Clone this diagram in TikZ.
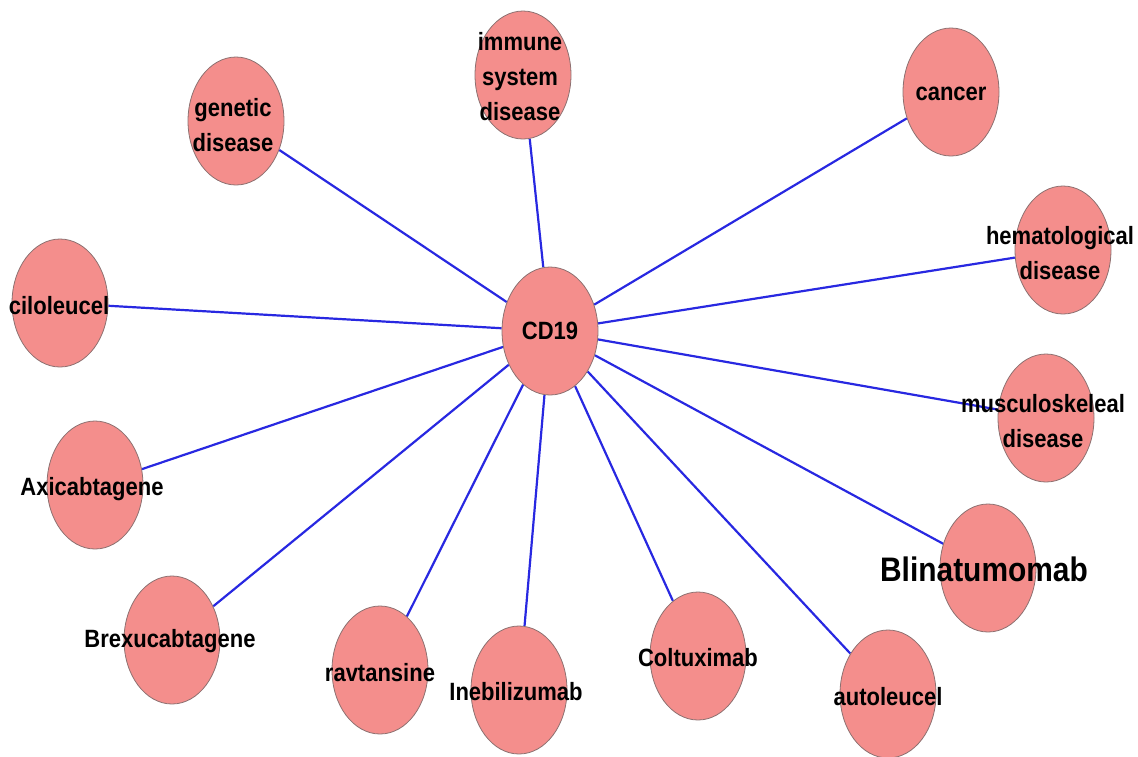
\documentclass[tikz,border=0pt]{standalone}
\usepackage{fontspec}
\setmainfont{Liberation Sans}[FakeStretch=0.88]
\usepackage{tikz}
\usetikzlibrary{shapes.geometric,backgrounds}

\definecolor{nodepink}{RGB}{244,142,140}
\definecolor{nodeedge}{RGB}{140,112,112}
\definecolor{linkblue}{RGB}{40,40,225}

\begin{document}
\begin{tikzpicture}[x=1pt,y=-1pt]
\tikzstyle{ent}=[ellipse, draw=nodeedge, line width=0.8pt, fill=nodepink, inner sep=0pt, minimum width=96pt, minimum height=128pt]
\tikzstyle{txt}=[inner sep=0pt, align=center, font=\fontsize{25}{35}\selectfont\bfseries]
\tikzstyle{link}=[draw=linkblue, line width=2.2pt]

\useasboundingbox (0,0) rectangle (1138,756);

% hub
\node[ent] (cd19) at (550,331) {};
\node[txt] (cd19t) at (550,331) {CD19};

% diseases
\node[ent] (immune) at (523,75) {};
\node[txt] (immunet) at (520,77) {immune\\system\\disease};
\node[ent] (genetic) at (236,121) {};
\node[txt] (genetict) at (233,125) {genetic\\disease};
\node[ent] (cancer) at (951,92) {};
\node[txt] (cancert) at (951,94) {cancer};
\node[ent] (hema) at (1063,250) {};
\node[txt] (hemat) at (1060,253) {hematological\\disease};
\node[ent] (musc) at (1046,418) {};
\node[txt] (musct) at (1043,421) {musculoskeleal\\disease};

% drugs
\node[ent] (cilo) at (60,303) {};
\node[txt] (cilot) at (59,306) {ciloleucel};
\node[ent] (axi) at (95,485) {};
\node[txt] (axit) at (92,489) {Axicabtagene};
\node[ent] (brexu) at (172,640) {};
\node[txt] (brexut) at (170,641) {Brexucabtagene};
\node[ent] (ravt) at (380,670) {};
\node[txt] (ravtt) at (380,673) {ravtansine};
\node[ent] (ineb) at (519,690) {};
\node[txt] (inebt) at (516,692) {Inebilizumab};
\node[ent] (coltu) at (698,656) {};
\node[txt] (coltut) at (698,658) {Coltuximab};
\node[ent] (auto) at (888,694) {};
\node[txt] (autot) at (888,697) {autoleucel};
\node[ent] (blina) at (988,568) {};
\node[txt, font=\fontsize{34}{40}\selectfont\bfseries] (blinat) at (984,569) {Blinatumomab};

% links
\begin{scope}[on background layer]
\foreach \n in {immune,genetic,cancer,hema,musc,cilo,axi,brexu,ravt,ineb,coltu,auto,blina}
  \draw[link] (cd19) -- (\n);
\end{scope}

\end{tikzpicture}
\end{document}
